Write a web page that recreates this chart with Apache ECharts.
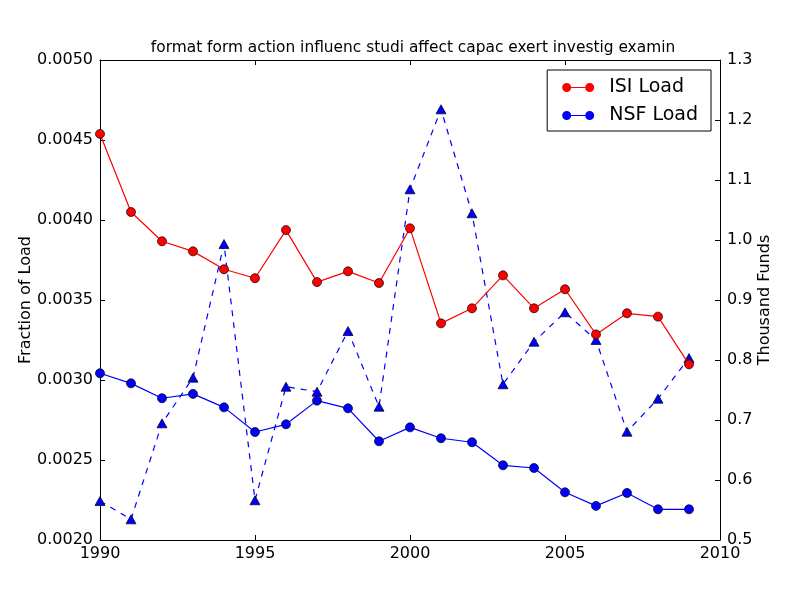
<!DOCTYPE html>
<html>
<head>
<meta charset="utf-8">
<script src="https://cdn.jsdelivr.net/npm/echarts@6/dist/echarts.min.js"></script>
<style>
html,body{margin:0;padding:0;background:#fff;}
#chart{width:800px;height:600px;}
</style>
</head>
<body>
<div id="chart"></div>
<script>
var years = [1990,1991,1992,1993,1994,1995,1996,1997,1998,1999,2000,2001,2002,2003,2004,2005,2006,2007,2008,2009];
var isiLoad = [0.004538,0.00405,0.003867,0.003804,0.003692,0.003636,0.003937,0.003612,0.003679,0.003606,0.003948,0.003354,0.003448,0.003654,0.003448,0.003567,0.003285,0.003417,0.003396,0.003098];
var nsfLoad = [0.003042,0.002979,0.002886,0.002913,0.002829,0.002675,0.002723,0.002871,0.002823,0.002617,0.002704,0.002636,0.002611,0.002467,0.00245,0.002298,0.002213,0.002294,0.002192,0.002192];
var funds = [0.565,0.5345,0.6945,0.7705,0.9933,0.5662,0.7555,0.7472,0.8483,0.7222,1.0845,1.2178,1.0445,0.7595,0.8305,0.8795,0.8333,0.6805,0.7355,0.8033];
var titleText = 'format form action influenc studi affect capac exert investig examin';
var leftLabel = 'Fraction of Load';
var rightLabel = 'Thousand Funds';

function pairs(xs, ys){ return xs.map(function(x,i){ return [x, ys[i]]; }); }

var font = 'DejaVu Sans';
var chart = echarts.init(document.getElementById('chart'), null, {renderer:'canvas'});
var legendIcon = 'path://M0,5 a4.5,4.5 0 1,0 9,0 a4.5,4.5 0 1,0 -9,0 Z M9,4.5 L23,4.5 L23,5.5 L9,5.5 Z M23,5 a4.5,4.5 0 1,0 9,0 a4.5,4.5 0 1,0 -9,0 Z';
chart.setOption({
  animation:false,
  backgroundColor:'#ffffff',
  textStyle:{fontFamily:font},
  title:{text:titleText, left:408, textAlign:'center', top:35,
    textStyle:{fontFamily:font, fontSize:15.4, fontWeight:'normal', color:'#000'}},
  grid:{left:100, right:80, top:60, bottom:60, show:false},
  legend:{
    data:['ISI Load','NSF Load'],
    orient:'vertical', right:89, top:70,
    backgroundColor:'#fff', borderColor:'#000', borderWidth:1,
    padding:[8,13,6,15], itemGap:9,
    itemWidth:32, itemHeight:9, icon:legendIcon,
    itemStyle:{borderWidth:0},
    textStyle:{fontFamily:font, fontSize:19, lineHeight:19, color:'#000', padding:[0,0,0,10]}
  },
  xAxis:[{
    type:'value', min:1990, max:2010, interval:5, position:'bottom',
    axisLine:{show:true, onZero:false, lineStyle:{color:'#000', width:1}},
    axisTick:{show:true, inside:true, length:5, lineStyle:{color:'#000'}},
    axisLabel:{fontFamily:font, fontSize:16, color:'#000', margin:6,
      formatter:function(v){return String(v);}},
    splitLine:{show:false}
  },{
    type:'value', min:1990, max:2010, interval:5, position:'top',
    axisLine:{show:true, onZero:false, lineStyle:{color:'#000', width:1}},
    axisTick:{show:true, inside:true, length:5, lineStyle:{color:'#000'}},
    axisLabel:{show:false}, splitLine:{show:false}
  }],
  yAxis:[{
    type:'value', min:0.002, max:0.005, interval:0.0005, position:'left',
    name:leftLabel, nameLocation:'middle', nameGap:66, nameRotate:90, nameMoveOverlap:false,
    nameTextStyle:{fontFamily:font, fontSize:16, color:'#000'},
    axisLine:{show:true, onZero:false, lineStyle:{color:'#000', width:1}},
    axisTick:{show:true, inside:true, length:5, lineStyle:{color:'#000'}},
    axisLabel:{fontFamily:font, fontSize:16, color:'#000', margin:7,
      formatter:function(v){return v.toFixed(4);}},
    splitLine:{show:false}
  },{
    type:'value', min:0.5, max:1.3, interval:0.1, position:'right',
    name:rightLabel, nameLocation:'middle', nameGap:37, nameRotate:90, nameMoveOverlap:false,
    nameTextStyle:{fontFamily:font, fontSize:16, color:'#000'},
    axisLine:{show:true, onZero:false, lineStyle:{color:'#000', width:1}},
    axisTick:{show:true, inside:true, length:5, lineStyle:{color:'#000'}},
    axisLabel:{fontFamily:font, fontSize:16, color:'#000', margin:7,
      formatter:function(v){return v.toFixed(1);}},
    splitLine:{show:false}
  }],
  series:[{
    name:'ISI Load', type:'line', xAxisIndex:0, yAxisIndex:0,
    data:pairs(years, isiLoad),
    symbol:'circle', symbolSize:9,
    itemStyle:{color:'#ff0000', borderColor:'#000', borderWidth:0.7},
    lineStyle:{color:'#ff0000', width:1.2}, z:3
  },{
    name:'NSF Load', type:'line', xAxisIndex:0, yAxisIndex:0,
    data:pairs(years, nsfLoad),
    symbol:'circle', symbolSize:9,
    itemStyle:{color:'#0000ff', borderColor:'#000', borderWidth:0.7},
    lineStyle:{color:'#0000ff', width:1.2}, z:3
  },{
    name:'Funds', type:'line', xAxisIndex:0, yAxisIndex:1,
    data:pairs(years, funds),
    symbol:'triangle', symbolSize:[10,9],
    itemStyle:{color:'#0000ff', borderColor:'#000', borderWidth:0.7},
    lineStyle:{color:'#0000ff', width:1.2, type:[6,6]}, z:2
  }]
});
</script>
</body>
</html>
